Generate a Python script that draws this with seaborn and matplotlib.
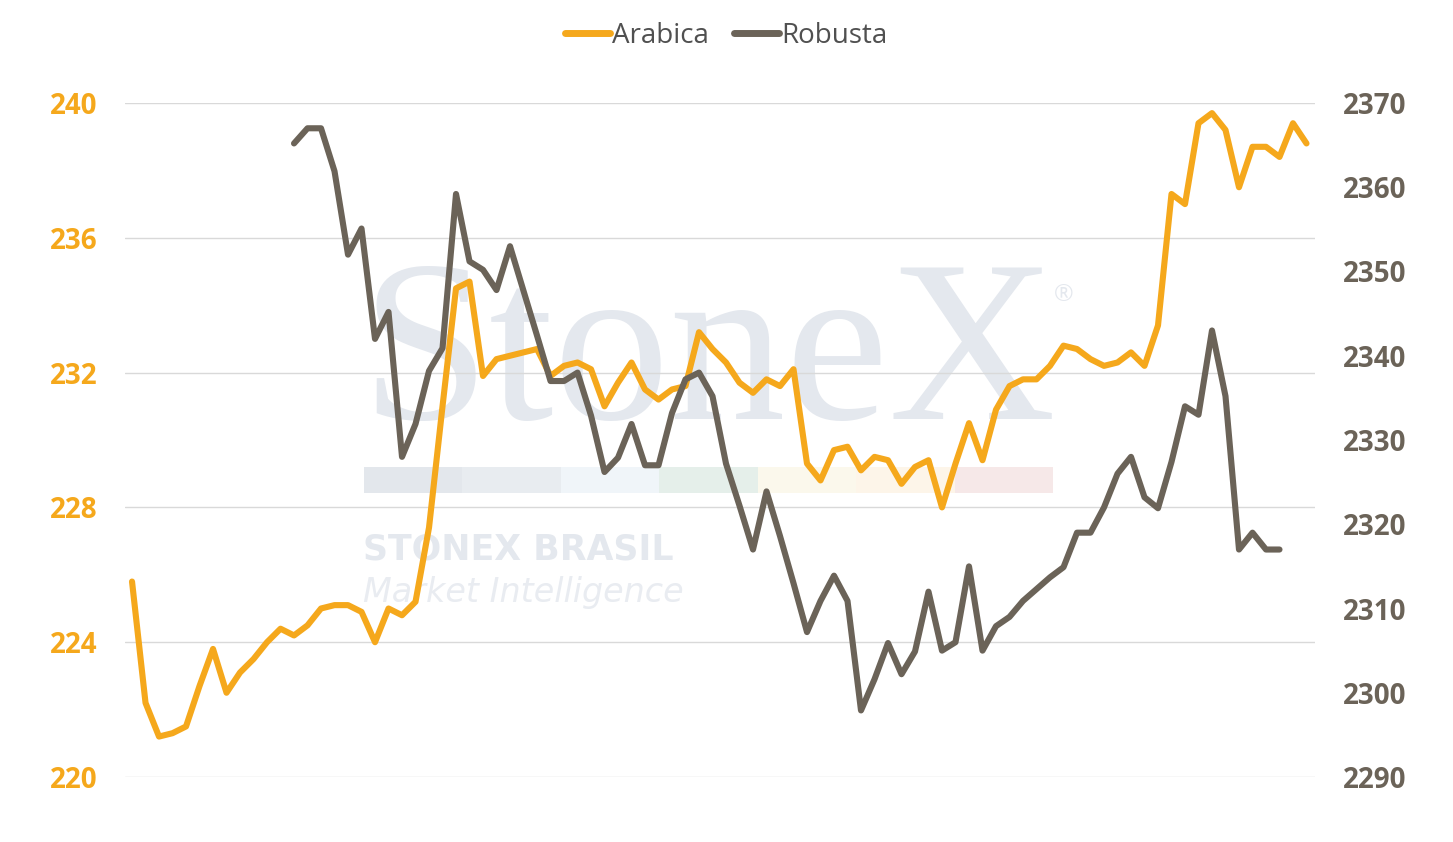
import matplotlib
matplotlib.use("Agg")
import matplotlib.pyplot as plt
import seaborn as sns
import pandas as pd
import numpy as np
from matplotlib.patches import Rectangle
from matplotlib.lines import Line2D

# ---------------- data ----------------
series_names = ["Arabica", "Robusta"]

arabica = [
    225.8, 222.2, 221.2, 221.3, 221.5, 222.7, 223.8, 222.5, 223.1, 223.5,
    224.0, 224.4, 224.2, 224.5, 225.0, 225.1, 225.1, 224.9, 224.0, 225.0,
    224.8, 225.2, 227.4, 231.0, 234.5, 234.7, 231.9, 232.4, 232.5, 232.6,
    232.7, 231.9, 232.2, 232.3, 232.1, 231.0, 231.7, 232.3, 231.5, 231.2,
    231.5, 231.6, 233.2, 232.7, 232.3, 231.7, 231.4, 231.8, 231.6, 232.1,
    229.3, 228.8, 229.7, 229.8, 229.1, 229.5, 229.4, 228.7, 229.2, 229.4,
    228.0, 229.3, 230.5, 229.4, 230.9, 231.6, 231.8, 231.8, 232.2, 232.8,
    232.7, 232.4, 232.2, 232.3, 232.6, 232.2, 233.4, 237.3, 237.0, 239.4,
    239.7, 239.2, 237.5, 238.7, 238.7, 238.4, 239.4, 238.8,
]

robusta = [
    None, None, None, None, None, None, None, None, None, None,
    None, None, 2365.2, 2367.0, 2367.0, 2361.9, 2352.0, 2355.1, 2342.0, 2345.2,
    2328.0, 2331.9, 2338.2, 2340.9, 2359.2, 2351.2, 2350.2, 2347.8, 2353.0, 2347.7,
    2342.4, 2337.0, 2337.0, 2338.0, 2332.9, 2326.2, 2327.9, 2331.9, 2327.0, 2327.0,
    2333.2, 2337.2, 2338.0, 2335.2, 2327.2, 2322.2, 2317.0, 2323.9, 2318.6, 2313.0,
    2307.2, 2310.9, 2313.9, 2310.9, 2297.9, 2301.6, 2305.9, 2302.2, 2304.9, 2312.0,
    2305.0, 2306.0, 2315.0, 2305.0, 2307.9, 2309.0, 2310.9, 2312.3, 2313.7, 2314.9,
    2319.0, 2319.0, 2322.0, 2326.0, 2328.0, 2323.2, 2321.9, 2327.4, 2334.0, 2333.0,
    2343.0, 2335.2, 2317.0, 2319.0, 2317.0, 2317.0, None, None,
]

left_ticks = [220, 224, 228, 232, 236, 240]
right_ticks = [2290, 2300, 2310, 2320, 2330, 2340, 2350, 2360, 2370]

# ---------------- style ----------------
ORANGE = "#F5A81C"
GRAY = "#6B6358"
WM = "#E4E8EE"

sns.set_theme(style="white")
plt.rcParams["font.family"] = ["Open Sans", "DejaVu Sans"]

W, H = 1453, 842
fig = plt.figure(figsize=(W / 100, H / 100), dpi=100)
fig.patch.set_facecolor("white")

ax = fig.add_axes([125 / W, 1 - 777 / H, (1315 - 125) / W, (777 - 103) / H])
ax.patch.set_visible(False)
ax2 = ax.twinx()
ax2.patch.set_visible(False)

df = pd.DataFrame({
    "idx": np.arange(len(arabica)),
    series_names[0]: pd.Series(arabica, dtype="float"),
    series_names[1]: pd.Series(robusta, dtype="float"),
})

sns.lineplot(data=df, x="idx", y=series_names[0], ax=ax, color=ORANGE,
             linewidth=4.4, solid_joinstyle="round", solid_capstyle="round",
             zorder=3)
sns.lineplot(data=df.dropna(subset=[series_names[1]]), x="idx", y=series_names[1],
             ax=ax2, color=GRAY, linewidth=4.4, solid_joinstyle="round",
             solid_capstyle="round", zorder=3)

# ---------------- axes ----------------
ax.set_xlim(-0.52, 87.63)
ax.set_ylim(220, 240)
ax2.set_ylim(2290, 2370)
ax.set_yticks(left_ticks)
ax2.set_yticks(right_ticks)
ax.set_xticks([])
ax2.set_xticks([])
for a in (ax, ax2):
    a.set_xlabel("")
    a.set_ylabel("")
    for s in a.spines.values():
        s.set_visible(False)

ax.grid(axis="y", color="#D9D9D9", linewidth=1)
ax.grid(axis="x", visible=False)
ax2.grid(False)

ax.tick_params(axis="y", length=0, pad=20, labelsize=20, labelcolor=ORANGE)
ax2.tick_params(axis="y", length=0, pad=20, labelsize=20, labelcolor=GRAY)
for tl in ax.get_yticklabels() + ax2.get_yticklabels():
    tl.set_fontweight("bold")

# ---------------- watermark ----------------
def fx(px):
    return px / W

def fy(py):
    return 1 - py / H

fig.text(fx(360), fy(419), "StoneX", fontsize=167, family=["Liberation Serif", "DejaVu Serif"],
         color=WM, ha="left", va="baseline", zorder=-3)
fig.text(fx(1064), fy(295), "\u00ae", fontsize=17, color=WM, ha="center", va="center", zorder=-3)
bar_colors = ["#E3E7EC", "#E8ECF0", "#F0F5F9", "#E5EFEA", "#FBF8EC", "#FDF5E9", "#F6E8E8"]
x0, x1 = 364, 1053
seg = (x1 - x0) / len(bar_colors)
for i, c in enumerate(bar_colors):
    fig.patches.append(Rectangle((fx(x0 + i * seg), fy(493)), seg / W, 26 / H,
                                 transform=fig.transFigure, facecolor=c,
                                 edgecolor="none", zorder=-3))
fig.text(fx(363), fy(560), "STONEX BRASIL", fontsize=25, weight="bold",
         family="DejaVu Sans", color=WM, ha="left", va="baseline", zorder=-3)
fig.text(fx(363), fy(602), "Market Intelligence", fontsize=24, style="oblique",
         family="DejaVu Sans", color="#E9ECF1", ha="left", va="baseline", zorder=-3)

# ---------------- legend ----------------
handles = [Line2D([], [], color=ORANGE, lw=5, solid_capstyle="round"),
           Line2D([], [], color=GRAY, lw=5, solid_capstyle="round")]
fig.legend(handles=handles, labels=series_names, loc="center",
           bbox_to_anchor=(0.5, fy(36)), ncol=2, frameon=False, fontsize=20,
           handlelength=1.6, handletextpad=0.1, columnspacing=0.9,
           labelcolor="#505050")

fig.savefig("out.png", dpi=100)
